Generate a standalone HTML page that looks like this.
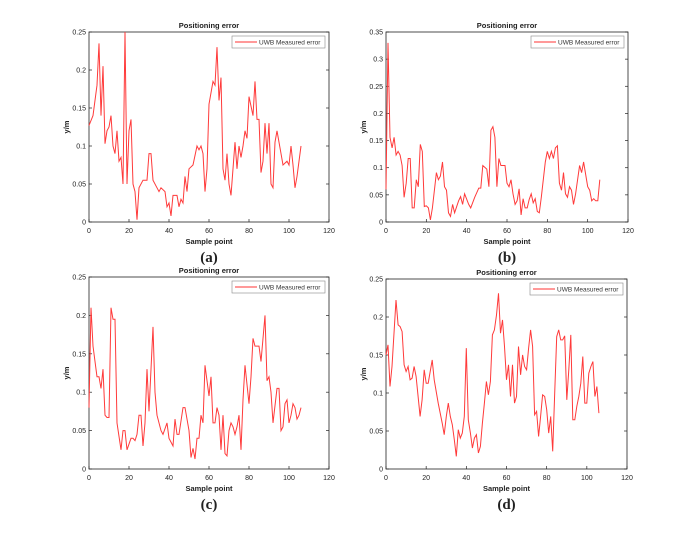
<!DOCTYPE html>
<html><head><meta charset="utf-8"><style>
body{margin:0;background:#fff;width:687px;height:533px;overflow:hidden}
svg{display:block}
text{font-family:"Liberation Sans",sans-serif}
</style></head><body>
<svg id="s" width="687" height="533" xmlns="http://www.w3.org/2000/svg"></svg>
<script>
const S=document.getElementById('s');
let h='';
function panel(L,R,T,B,ymax,ystep,ylabels,data,cap){
  const W=R-L,H=B-T;
  const px=x=>L+x/120*W, py=y=>B-y/ymax*H;
  h+=`<rect x="${L}" y="${T}" width="${W}" height="${H}" fill="#fff" stroke="#222" stroke-width="0.8"/>`;
  for(let i=0;i<=6;i++){const x=px(i*20);
    h+=`<line x1="${x}" y1="${B}" x2="${x}" y2="${B-3}" stroke="#222" stroke-width="0.7"/>`;
    h+=`<text x="${x}" y="${B+11}" font-size="7" text-anchor="middle" fill="#222">${i*20}</text>`;}
  ylabels.forEach((lb,i)=>{const y=py(i*ystep);
    h+=`<line x1="${L}" y1="${y}" x2="${L+3}" y2="${y}" stroke="#222" stroke-width="0.7"/>`;
    h+=`<line x1="${R}" y1="${y}" x2="${R-3}" y2="${y}" stroke="#222" stroke-width="0.7"/>`;
    h+=`<text x="${L-3}" y="${y+2.5}" font-size="7" text-anchor="end" fill="#222">${lb}</text>`;});
  h+=`<text x="${(L+R)/2}" y="${T-4}" font-size="7.5" font-weight="bold" text-anchor="middle" fill="#222">Positioning error</text>`;
  h+=`<text x="${(L+R)/2}" y="${B+22}" font-size="7.5" font-weight="bold" text-anchor="middle" fill="#222">Sample point</text>`;
  h+=`<text transform="translate(${L-20},${(T+B)/2}) rotate(-90)" font-size="7.5" font-weight="bold" text-anchor="middle" fill="#222">y/m</text>`;
  h+=`<rect x="${R-97}" y="${T+4}" width="93" height="12" fill="#fff" stroke="#888" stroke-width="0.6"/>`;
  h+=`<line x1="${R-94}" y1="${T+10}" x2="${R-72}" y2="${T+10}" stroke="#f33" stroke-width="1"/>`;
  h+=`<text x="${R-70}" y="${T+12.5}" font-size="6.5" fill="#333">UWB Measured error</text>`;
  h+=`<polyline fill="none" stroke="#ff3a3a" stroke-width="1" points="${data.map(p=>px(p[0]).toFixed(1)+','+py(p[1]).toFixed(1)).join(' ')}"/>`;
  h+=`<text x="${(L+R)/2}" y="${B+40}" font-size="15" font-weight="bold" font-family="Liberation Serif,serif" text-anchor="middle" fill="#222" style="font-family:'Liberation Serif',serif">${cap}</text>`;
}
const a=[[0,0.127],[2,0.14],[4,0.18],[5,0.235],[6,0.14],[7,0.205],[8,0.103],[9,0.12],[10,0.125],[11,0.14],[12,0.1],[13,0.09],[14,0.12],[15,0.08],[16,0.085],[17,0.05],[18,0.25],[19,0.05],[20,0.12],[21,0.135],[22,0.05],[23,0.04],[24,0.003],[25,0.045],[27,0.055],[29,0.055],[30,0.09],[31,0.09],[32,0.055],[34,0.045],[35,0.04],[36,0.045],[38,0.04],[39,0.02],[40,0.025],[41,0.008],[42,0.035],[44,0.035],[45,0.02],[46,0.03],[47,0.025],[48,0.06],[49,0.04],[50,0.07],[52,0.075],[54,0.1],[55,0.095],[56,0.1],[57,0.09],[58,0.04],[59,0.07],[60,0.155],[62,0.185],[63,0.18],[64,0.23],[65,0.16],[66,0.19],[67,0.07],[68,0.055],[69,0.09],[70,0.05],[71,0.035],[72,0.07],[73,0.105],[74,0.07],[75,0.1],[76,0.085],[77,0.1],[78,0.12],[79,0.11],[80,0.165],[82,0.14],[83,0.185],[84,0.135],[85,0.135],[86,0.065],[87,0.08],[88,0.13],[89,0.09],[90,0.13],[91,0.05],[92,0.045],[93,0.105],[94,0.12],[96,0.09],[97,0.075],[99,0.08],[100,0.075],[101,0.1],[102,0.075],[103,0.045],[104,0.06],[106,0.1]];
const c=[[0,0.08],[1,0.21],[2,0.16],[4,0.12],[5,0.12],[6,0.105],[7,0.13],[8,0.07],[9,0.067],[10,0.067],[11,0.21],[12,0.195],[13,0.195],[14,0.06],[16,0.025],[17,0.05],[18,0.05],[19,0.025],[21,0.04],[22,0.04],[23,0.037],[24,0.045],[25,0.07],[26,0.07],[27,0.03],[28,0.06],[29,0.13],[30,0.075],[32,0.185],[33,0.1],[34,0.07],[36,0.05],[37,0.045],[39,0.06],[40,0.04],[41,0.035],[42,0.03],[43,0.065],[44,0.045],[45,0.045],[47,0.08],[48,0.08],[50,0.05],[51,0.015],[52,0.027],[53,0.013],[54,0.04],[55,0.04],[56,0.07],[57,0.06],[58,0.135],[60,0.095],[61,0.12],[62,0.06],[63,0.06],[64,0.08],[65,0.07],[66,0.025],[67,0.07],[68,0.02],[69,0.017],[70,0.05],[71,0.06],[72,0.055],[73,0.045],[74,0.055],[75,0.07],[76,0.025],[77,0.09],[78,0.135],[80,0.085],[81,0.12],[82,0.17],[83,0.16],[85,0.16],[86,0.14],[88,0.2],[89,0.115],[90,0.12],[91,0.1],[92,0.06],[94,0.105],[95,0.105],[96,0.05],[97,0.055],[98,0.085],[99,0.09],[100,0.06],[101,0.07],[102,0.085],[103,0.08],[104,0.065],[105,0.07],[106,0.08]];
let b=[[0,0.06],[1,0.33],[2,0.12],[3,0.105],[4,0.12],[5,0.095],[6,0.1],[7,0.095],[8,0.08],[9,0.035],[10,0.055],[11,0.09],[12,0.09],[13,0.02],[14,0.02],[15,0.06],[16,0.05],[17,0.11],[18,0.1],[19,0.022],[20,0.023],[21,0.02],[22,0.003],[23,0.02],[25,0.07],[26,0.06],[27,0.065],[28,0.085],[29,0.05],[30,0.045],[31,0.013],[32,0.008],[33,0.025],[34,0.013],[36,0.03],[37,0.036],[38,0.025],[39,0.04],[41,0.025],[42,0.02],[44,0.035],[46,0.048],[47,0.048],[48,0.08],[50,0.075],[51,0.05],[52,0.13],[53,0.135],[54,0.12],[55,0.05],[56,0.09],[57,0.08],[59,0.08],[60,0.055],[61,0.05],[62,0.06],[63,0.04],[64,0.025],[65,0.03],[66,0.047],[67,0.01],[68,0.033],[69,0.02],[70,0.02],[71,0.032],[72,0.04],[73,0.027],[74,0.033],[75,0.015],[76,0.013],[77,0.035],[79,0.085],[80,0.1],[81,0.09],[82,0.1],[83,0.09],[84,0.105],[85,0.108],[86,0.055],[87,0.045],[88,0.07],[89,0.04],[90,0.035],[91,0.05],[92,0.045],[93,0.025],[94,0.04],[96,0.08],[97,0.07],[98,0.085],[100,0.05],[101,0.045],[102,0.03],[103,0.033],[104,0.03],[105,0.03],[106,0.06]];
b=b.map((p,i)=>i<2?p:[p[0],p[1]*1.3]);
const dz=[[0,285],[1,255],[2,380],[3,320],[5,120],[6,195],[7,200],[8,215],[9,315],[10,335],[11,320],[12,360],[13,355],[14,320],[15,350],[17,470],[18,420],[19,330],[20,370],[21,370],[23,300],[24,360],[26,430],[28,490],[29,525],[30,470],[31,430],[32,470],[33,495],[34,540],[35,590],[36,510],[37,535],[38,520],[39,470],[40,265],[41,480],[42,520],[43,565],[44,535],[45,525],[46,580],[47,560],[48,490],[49,430],[50,365],[51,405],[52,365],[53,225],[54,210],[55,165],[56,100],[57,220],[58,180],[59,260],[60,360],[61,315],[62,410],[63,315],[64,430],[65,410],[66,260],[67,345],[68,285],[69,320],[70,330],[71,265],[72,210],[73,260],[74,465],[75,455],[76,530],[77,470],[78,405],[79,410],[80,450],[81,520],[82,470],[83,575],[84,400],[85,230],[86,210],[87,240],[88,240],[89,228],[90,420],[91,330],[92,225],[93,480],[94,480],[95,440],[96,410],[97,370],[98,290],[99,430],[100,430],[101,340],[102,320],[103,305],[104,410],[105,380],[106,460]];
const d=dz.map(p=>[p[0],(628-p[1])/571*0.25]);
const y25=['0','0.05','0.1','0.15','0.2','0.25'];
panel(89,329,32,222,0.25,0.05,y25,a,'(a)');
panel(386,628,32,222,0.35,0.05,['0','0.05','0.1','0.15','0.2','0.25','0.3','0.35'],b,'(b)');
panel(89,329,277,469,0.25,0.05,y25,c,'(c)');
panel(386,627,279,469,0.25,0.05,y25,d,'(d)');
S.innerHTML=h;
</script>
</body></html>
